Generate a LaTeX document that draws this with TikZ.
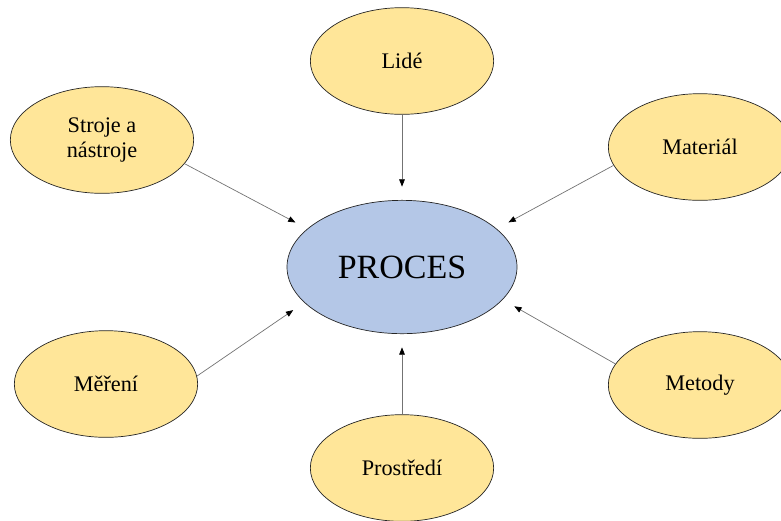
\documentclass[tikz,border=0pt]{standalone}
\usepackage{fontspec}
\setmainfont{Liberation Serif}
\usetikzlibrary{shapes.geometric,arrows.meta}
\definecolor{faktorfill}{HTML}{FFE699}
\definecolor{procesfill}{HTML}{B4C7E7}
\tikzset{
  faktor/.style={ellipse,draw=black!85,fill=faktorfill,line width=0.6pt,inner sep=0pt,
    minimum width=5.5cm,minimum height=3.2cm,align=center,
    font=\fontsize{19}{22}\selectfont},
  proces/.style={ellipse,draw=black!85,fill=procesfill,line width=0.6pt,inner sep=0pt,
    minimum width=6.9cm,minimum height=4cm,font=\fontsize{29}{32}\selectfont},
  vliv/.style={draw=black!55,line width=0.6pt,shorten >=0.4cm,
    -{Triangle[black,length=2.2mm,width=1.7mm]}}
}
\begin{document}
\begin{tikzpicture}[x=0.03cm,y=-0.03cm]
    \useasboundingbox (0,0) rectangle (781,520);
    \clip (0,0) rectangle (781,520);
    \node[proces] (proc) at (402,267) {PROCES};
    % sest faktoru kolem procesu
    \foreach \x/\y/\jm/\txt/\od/\k in {
      402/61/lide/{Lidé}/south/north,
      102/140/stroje/{Stroje a\\nástroje}/-16/158,
      700/147/mat/{Materiál}/192/22,
      106/384/mer/{Měření}/5/200,
      700/385/met/{Metody}/166/-18,
      402/468/prost/{Prostředí}/north/south}
    {
      \node[faktor] (\jm) at (\x,\y) {\txt};
      \draw[vliv] (\jm.\od) -- (proc.\k);
    }
\end{tikzpicture}
\end{document}
